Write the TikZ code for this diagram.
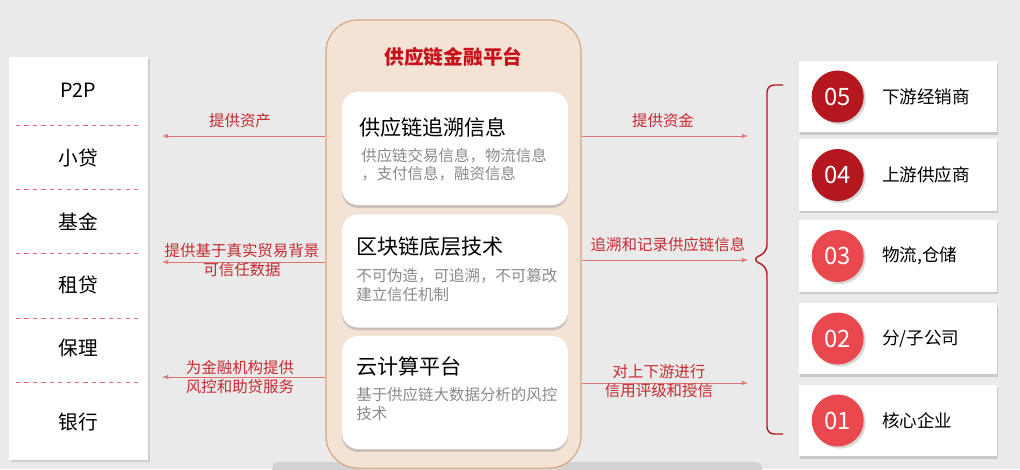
\documentclass[tikz,border=0pt]{standalone}
\usepackage{fontspec}
\setmainfont{Noto Sans CJK SC}
\usetikzlibrary{shapes,arrows,positioning,calc,shadows}

\definecolor{bggray}{HTML}{EAEAEA}
\definecolor{stripgray}{HTML}{D2D2D2}
\definecolor{platfill}{HTML}{F2E3D5}
\definecolor{platdraw}{HTML}{D8A47C}
\definecolor{titlered}{HTML}{C8101A}
\definecolor{labelred}{HTML}{C62A30}
\definecolor{linered}{HTML}{E2706F}
\definecolor{bracered}{HTML}{B2181E}
\definecolor{dotdark}{HTML}{B5171F}
\definecolor{dotlight}{HTML}{E9484F}
\definecolor{subgray}{HTML}{8A8A8A}

\begin{document}
\begin{tikzpicture}[
    x=0.025cm, y=-0.025cm,
    panel/.style={
        rectangle,
        fill=white,
        minimum width=3.475cm,
        minimum height=10.075cm,
        drop shadow={shadow xshift=1.5pt, shadow yshift=-1.5pt, opacity=0.25}
    },
    entry/.style={
        font=\fontsize{14pt}{16pt}\selectfont,
        inner sep=0pt
    },
    sepline/.style={
        draw=linered,
        dashed,
        line width=0.6pt
    },
    platform/.style={
        rectangle,
        draw=platdraw,
        fill=platfill,
        line width=0.8pt,
        rounded corners=0.8cm,
        minimum width=6.375cm,
        minimum height=11.2cm
    },
    platformtitle/.style={
        text=titlered,
        font=\fontsize{14pt}{16pt}\selectfont\bfseries
    },
    card/.style={
        rectangle,
        fill=white,
        rounded corners=0.4cm,
        minimum width=5.65cm,
        minimum height=2.825cm,
        drop shadow={shadow xshift=0pt, shadow yshift=-2pt, opacity=0.35}
    },
    cardtitle/.style={
        anchor=west,
        inner sep=0pt,
        font=\fontsize{15pt}{17pt}\selectfont
    },
    cardtext/.style={
        anchor=west,
        inner sep=0pt,
        align=left,
        text=subgray,
        font=\fontsize{11pt}{13pt}\selectfont
    },
    line/.style={
        draw=linered,
        -latex',
        line width=0.6pt
    },
    flowlabel/.style={
        text=labelred,
        align=center,
        inner sep=0pt,
        font=\fontsize{11pt}{14pt}\selectfont
    },
    itembox/.style={
        rectangle,
        fill=white,
        minimum width=4.95cm,
        minimum height=1.775cm,
        drop shadow={shadow xshift=1pt, shadow yshift=-2pt, opacity=0.3}
    },
    dot/.style={
        circle,
        minimum size=1.3cm,
        inner sep=0pt,
        text=white,
        font=\fontsize{17pt}{19pt}\selectfont,
        drop shadow={shadow xshift=1.5pt, shadow yshift=-1.5pt, opacity=0.3}
    },
    darkdot/.style={dot, fill=dotdark},
    lightdot/.style={dot, fill=dotlight},
    itemlabel/.style={
        anchor=west,
        inner sep=0pt,
        font=\fontsize{12.5pt}{14pt}\selectfont
    }
]

    % Background
    \fill[bggray] (0,0) rectangle (1020,469);
    \useasboundingbox (0,0) rectangle (1020,469);
    \fill[stripgray, rounded corners=4pt] (272,462) rectangle (762,476);

    % Left panel: funders
    \node [panel] (funders) at (78.5,258.5) {};
    \node [entry] (p2p) at (78,90) {P2P};
    \node [entry] (xiaodai) at (78,158) {小贷};
    \node [entry] (jijin) at (78,222) {基金};
    \node [entry] (zudai) at (78,285) {租贷};
    \node [entry] (baoli) at (78,348) {保理};
    \node [entry] (yinhang) at (78,422) {银行};
    \draw [sepline] (16,125) -- (139,125);
    \draw [sepline] (16,189) -- (139,189);
    \draw [sepline] (16,253) -- (139,253);
    \draw [sepline] (16,318) -- (139,318);
    \draw [sepline] (16,382) -- (139,382);

    % Platform
    \node [platform] (platform) at (453.5,244) {};
    \node [platformtitle] (ptitle) at ([yshift=-0.925cm]platform.north) {供应链金融平台};

    % Cards
    \node [card] (trace) at (455,148.5) {};
    \node [card] (chain) at (455,271) {};
    \node [card] (cloud) at (455,392.5) {};

    \node [cardtitle] (trace_t) at (359,127) {供应链追溯信息};
    \node [cardtext] (trace_s) at (361,165) {供应链交易信息，物流信息\\，支付信息，融资信息};
    \node [cardtitle] (chain_t) at (356,247) {区块链底层技术};
    \node [cardtext] (chain_s) at (356,285) {不可伪造，可追溯，不可篡改\\建立信任机制};
    \node [cardtitle] (cloud_t) at (356,366) {云计算平台};
    \node [cardtext] (cloud_s) at (356,404) {基于供应链大数据分析的风控\\技术};

    % Arrow ends
    \coordinate (la1) at (162,136);
    \coordinate (la2) at (162,262);
    \coordinate (la3) at (162,377);
    \coordinate (ra1) at (748,136);
    \coordinate (ra2) at (748,260);
    \coordinate (ra3) at (748,383);

    % Edges
    \path [line] (platform.west |- la1) -- (la1);
    \path [line] (platform.west |- la2) -- (la2);
    \path [line] (platform.west |- la3) -- (la3);
    \path [line] (platform.east |- ra1) -- (ra1);
    \path [line] (platform.east |- ra2) -- (ra2);
    \path [line] (platform.east |- ra3) -- (ra3);

    % Edge labels
    \node [flowlabel] (lab_l1) at (240,121) {提供资产};
    \node [flowlabel] (lab_l2) at (242,260) {提供基于真实贸易背景\\可信任数据};
    \node [flowlabel] (lab_l3) at (240,377) {为金融机构提供\\风控和助贷服务};
    \node [flowlabel] (lab_r1) at (663,121) {提供资金};
    \node [flowlabel] (lab_r2) at (668,245) {追溯和记录供应链信息};
    \node [flowlabel] (lab_r3) at (659,381) {对上下游进行\\信用评级和授信};

    % Brace
    \draw [bracered, line width=1pt, rounded corners=5pt]
        (783,85) -- (767,85) -- (767,252) -- (752,259.5) -- (767,267) -- (767,434) -- (783,434);

    % Right side: participants
    \node [itembox] (r5) at (898,96.5) {};
    \node [itembox] (r4) at (898,175) {};
    \node [itembox] (r3) at (898,256) {};
    \node [itembox] (r2) at (898,338.5) {};
    \node [itembox] (r1) at (898,420.5) {};

    \node [darkdot] (n5) at ([xshift=0.975cm]r5.west) {05};
    \node [darkdot] (n4) at ([xshift=0.975cm]r4.west) {04};
    \node [lightdot] (n3) at ([xshift=0.975cm]r3.west) {03};
    \node [lightdot] (n2) at ([xshift=0.975cm]r2.west) {02};
    \node [lightdot] (n1) at ([xshift=0.975cm]r1.west) {01};

    \node [itemlabel] at ([xshift=2.075cm]r5.west) {下游经销商};
    \node [itemlabel] at ([xshift=2.075cm]r4.west) {上游供应商};
    \node [itemlabel] at ([xshift=2.075cm]r3.west) {物流,仓储};
    \node [itemlabel] at ([xshift=2.075cm]r2.west) {分/子公司};
    \node [itemlabel] at ([xshift=2.075cm]r1.west) {核心企业};

\end{tikzpicture}
\end{document}
